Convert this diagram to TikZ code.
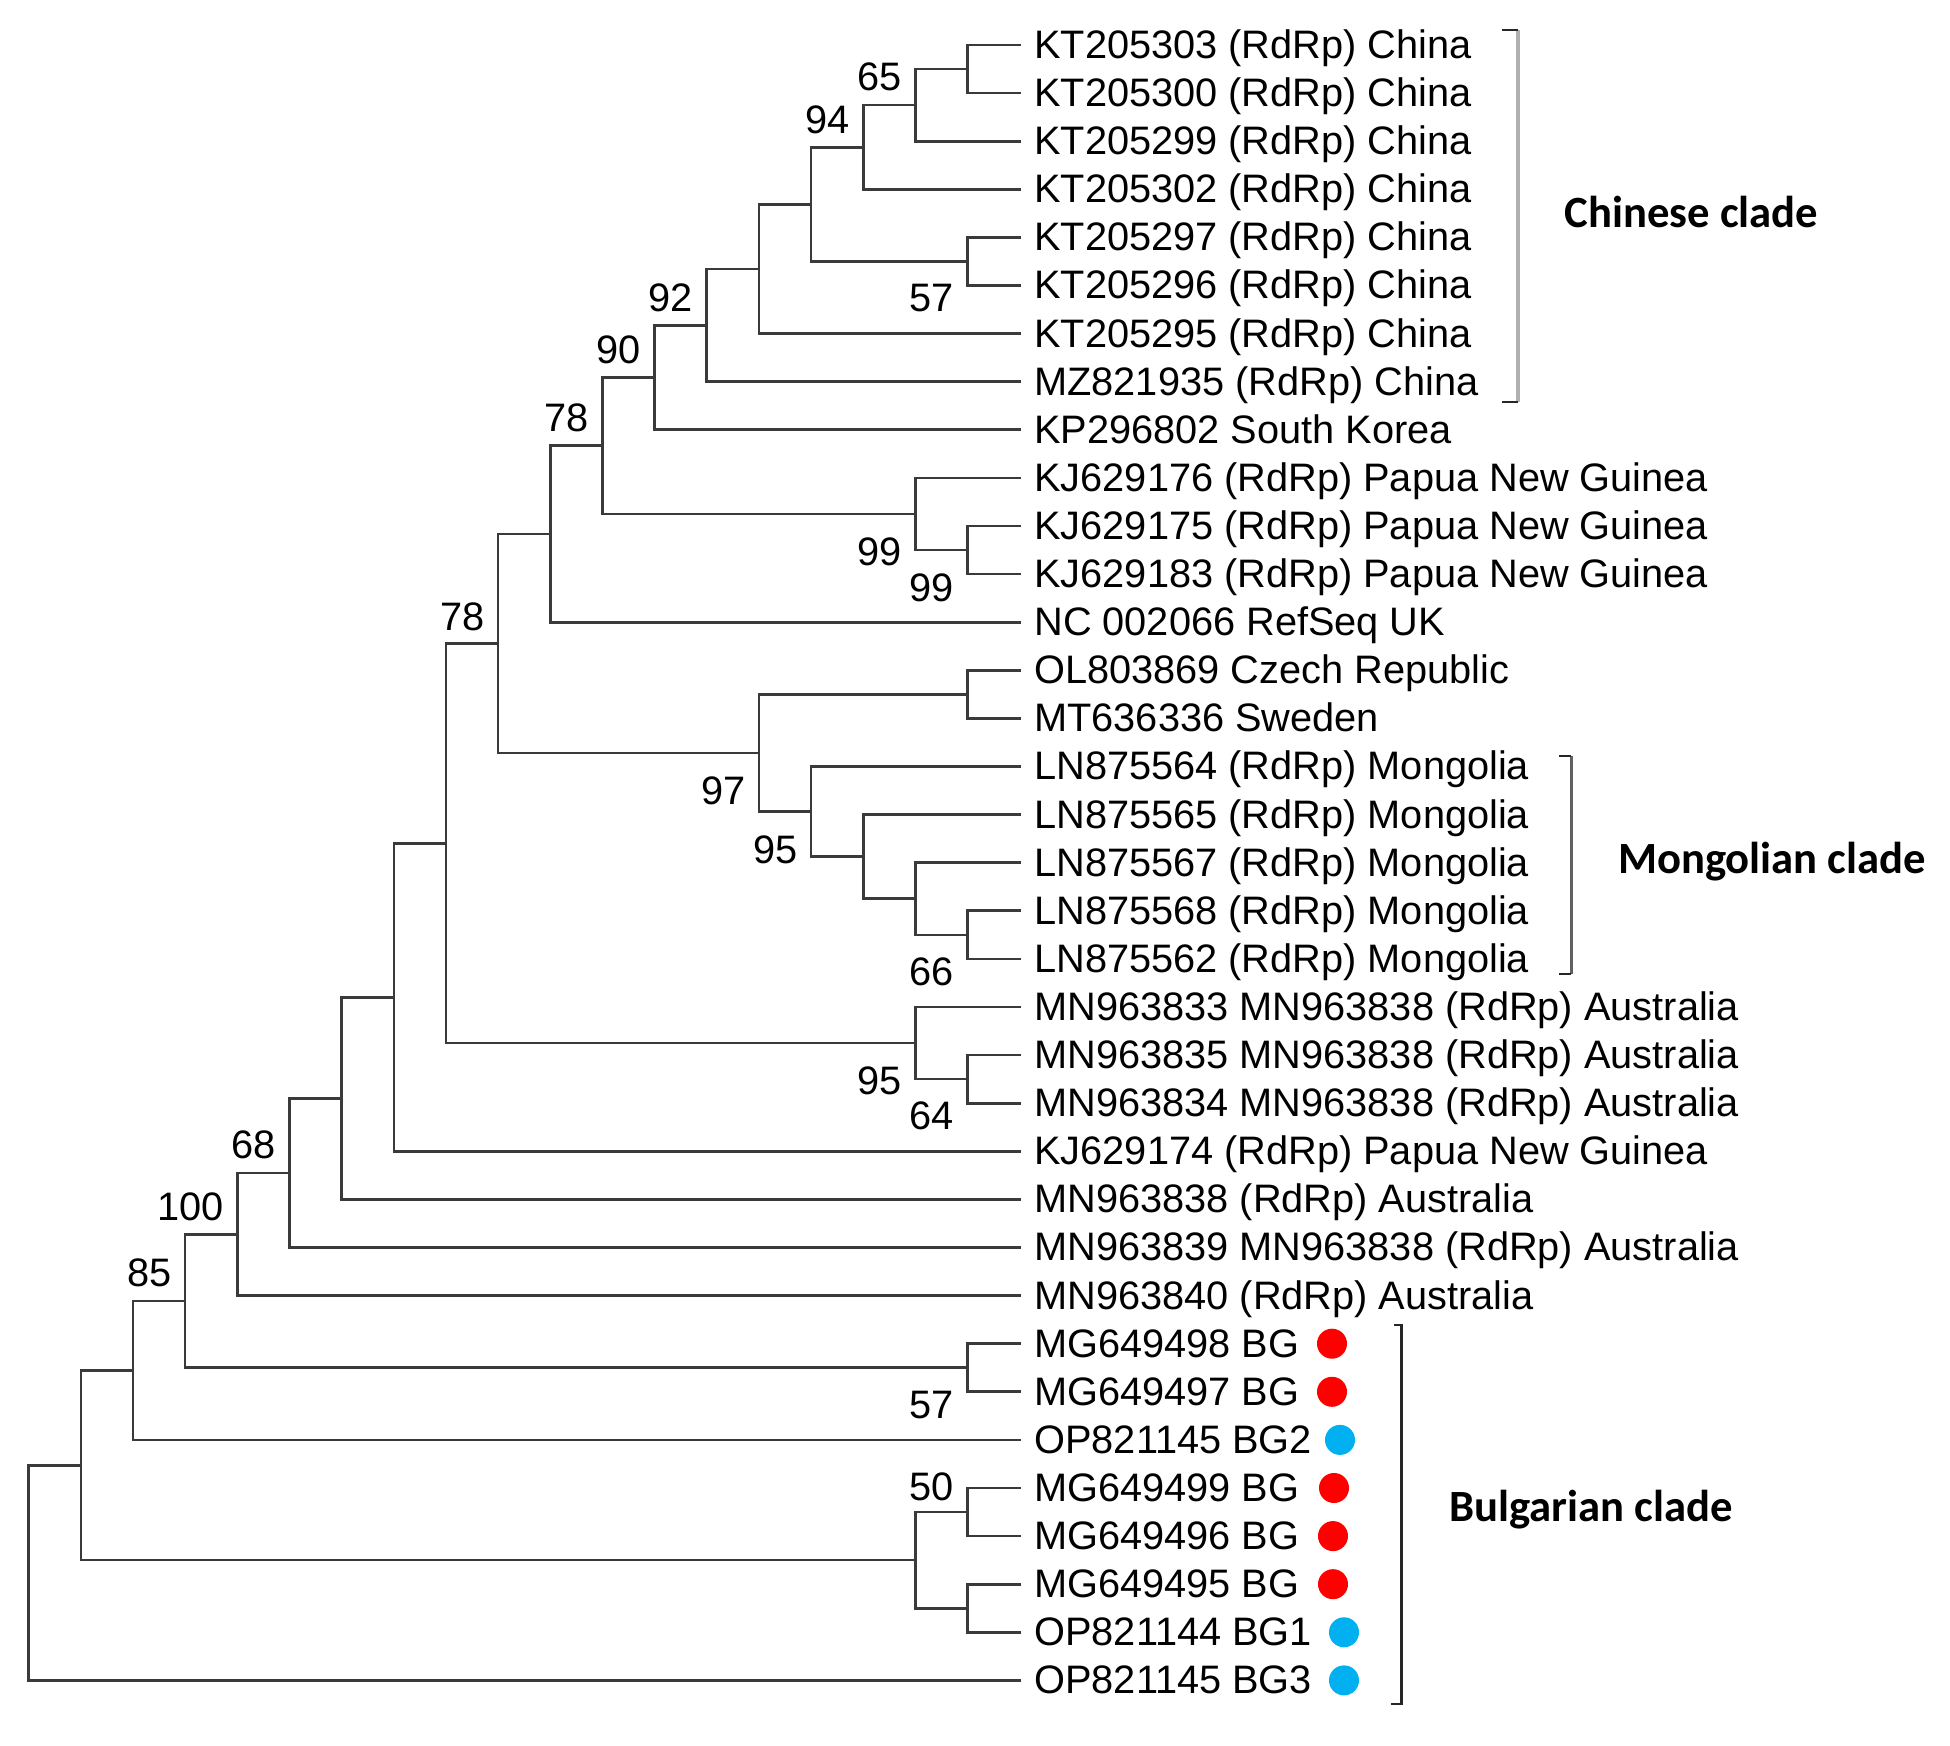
\documentclass[tikz,border=0pt]{standalone}
\usepackage{fontspec}
\setmainfont{Liberation Sans}
\newfontfamily\cladefont{Carlito}
\usetikzlibrary{calc}
\definecolor{branch}{HTML}{3A3A3A}
\definecolor{brgray}{HTML}{B0B0B0}
\definecolor{brdark}{HTML}{606060}
\definecolor{dotred}{HTML}{FF0000}
\definecolor{dotblue}{HTML}{00B0F0}
\newcommand\lx[1]{28.7+52.16*#1}
\tikzset{
  br/.style={draw=branch, line width=0.75pt, line cap=rect},
  leaf/.style={anchor=base west, inner sep=0pt, font=\fontsize{11.3pt}{13pt}\selectfont},
  bsa/.style={anchor=south east, inner sep=0pt, font=\fontsize{11.3pt}{13pt}\selectfont},
  bsb/.style={anchor=north east, inner sep=0pt, font=\fontsize{11.3pt}{13pt}\selectfont},
  clade/.style={inner sep=0pt, font=\cladefont\bfseries\fontsize{12.7pt}{15pt}\selectfont},
  dotr/.style={circle, fill=dotred, inner sep=0pt, minimum size=0.3cm},
  dotb/.style={circle, fill=dotblue, inner sep=0pt, minimum size=0.3cm},
  tick/.style={draw=black!85, line width=0.8pt},
}
\begin{document}
\begin{tikzpicture}[x=0.01cm, y=-0.01cm]
\useasboundingbox (0,0) rectangle (1950,1746);
% leaf end points
\foreach \i in {1,...,35} \coordinate (L\i) at (1019.7, {45+(\i-1)*48.1});
% internal nodes
\coordinate (A)    at ({\lx{18}}, 69.05);
\coordinate (N65)  at ({\lx{17}}, 105.1);
\coordinate (N94)  at ({\lx{16}}, 147.2);
\coordinate (B57)  at ({\lx{18}}, 261.45);
\coordinate (C)    at ({\lx{15}}, 204.3);
\coordinate (D)    at ({\lx{14}}, 268.95);
\coordinate (N92)  at ({\lx{13}}, 325.3);
\coordinate (N90)  at ({\lx{12}}, 377.6);
\coordinate (K99b) at ({\lx{18}}, 550.05);
\coordinate (K99a) at ({\lx{17}}, 514.0);
\coordinate (N78a) at ({\lx{11}}, 445.8);
\coordinate (E)    at ({\lx{10}}, 534.0);
\coordinate (CS)   at ({\lx{18}}, 694.35);
\coordinate (M66)  at ({\lx{18}}, 934.85);
\coordinate (Mg)   at ({\lx{17}}, 898.8);
\coordinate (Mf)   at ({\lx{16}}, 856.7);
\coordinate (M95)  at ({\lx{15}}, 811.6);
\coordinate (N97)  at ({\lx{14}}, 753.0);
\coordinate (N78b) at ({\lx{9}}, 643.5);
\coordinate (A64)  at ({\lx{18}}, 1079.15);
\coordinate (A95)  at ({\lx{17}}, 1043.1);
\coordinate (F)    at ({\lx{8}}, 843.3);
\coordinate (G)    at ({\lx{7}}, 997.3);
\coordinate (H)    at ({\lx{6}}, 1098.35);
\coordinate (N68)  at ({\lx{5}}, 1172.9);
\coordinate (N100) at ({\lx{4}}, 1234.25);
\coordinate (G57)  at ({\lx{18}}, 1367.75);
\coordinate (N85)  at ({\lx{3}}, 1301.0);
\coordinate (I)    at ({\lx{2}}, 1370.45);
\coordinate (B50)  at ({\lx{18}}, 1512.05);
\coordinate (J)    at ({\lx{18}}, 1608.25);
\coordinate (K)    at ({\lx{17}}, 1560.15);
\coordinate (Lr)   at ({\lx{1}}, 1465.3);
\coordinate (R)    at ({\lx{0}}, 1572.85);
% branches
\draw[br] (A) |- (L1) (A) |- (L2);
\draw[br] (N65) |- (A) (N65) |- (L3);
\draw[br] (N94) |- (N65) (N94) |- (L4);
\draw[br] (B57) |- (L5) (B57) |- (L6);
\draw[br] (C) |- (N94) (C) |- (B57);
\draw[br] (D) |- (C) (D) |- (L7);
\draw[br] (N92) |- (D) (N92) |- (L8);
\draw[br] (N90) |- (N92) (N90) |- (L9);
\draw[br] (K99b) |- (L11) (K99b) |- (L12);
\draw[br] (K99a) |- (L10) (K99a) |- (K99b);
\draw[br] (N78a) |- (N90) (N78a) |- (K99a);
\draw[br] (E) |- (N78a) (E) |- (L13);
\draw[br] (CS) |- (L14) (CS) |- (L15);
\draw[br] (M66) |- (L19) (M66) |- (L20);
\draw[br] (Mg) |- (L18) (Mg) |- (M66);
\draw[br] (Mf) |- (L17) (Mf) |- (Mg);
\draw[br] (M95) |- (L16) (M95) |- (Mf);
\draw[br] (N97) |- (CS) (N97) |- (M95);
\draw[br] (N78b) |- (E) (N78b) |- (N97);
\draw[br] (A64) |- (L22) (A64) |- (L23);
\draw[br] (A95) |- (L21) (A95) |- (A64);
\draw[br] (F) |- (N78b) (F) |- (A95);
\draw[br] (G) |- (F) (G) |- (L24);
\draw[br] (H) |- (G) (H) |- (L25);
\draw[br] (N68) |- (H) (N68) |- (L26);
\draw[br] (N100) |- (N68) (N100) |- (L27);
\draw[br] (G57) |- (L28) (G57) |- (L29);
\draw[br] (N85) |- (N100) (N85) |- (G57);
\draw[br] (I) |- (N85) (I) |- (L30);
\draw[br] (B50) |- (L31) (B50) |- (L32);
\draw[br] (J) |- (L33) (J) |- (L34);
\draw[br] (K) |- (B50) (K) |- (J);
\draw[br] (Lr) |- (I) (Lr) |- (K);
\draw[br] (R) |- (Lr) (R) |- (L35);
% bootstrap values
\node[bsa] (b65)  at ($(N65)+(-13,-13)$) {65};
\node[bsa] (b94)  at ($(N94)+(-13,-13)$) {94};
\node[bsb] (b57a) at ($(B57)+(-13,22)$) {57};
\node[bsa] (b92)  at ($(N92)+(-13,-13)$) {92};
\node[bsa] (b90)  at ($(N90)+(-13,-13)$) {90};
\node[bsa] (b78a) at ($(N78a)+(-13,-13)$) {78};
\node[bsb] (b99a) at ($(K99a)+(-13,23)$) {99};
\node[bsb] (b99b) at ($(K99b)+(-13,23)$) {99};
\node[bsa] (b78b) at ($(N78b)+(-13,-12)$) {78};
\node[bsb] (b97)  at ($(N97)+(-13,23)$) {97};
\node[bsb] (b95a) at ($(M95)+(-13,23)$) {95};
\node[bsb] (b66)  at ($(M66)+(-13,22)$) {66};
\node[bsb] (b95b) at ($(A95)+(-13,23)$) {95};
\node[bsb] (b64)  at ($(A64)+(-13,22)$) {64};
\node[bsa] (b68)  at ($(N68)+(-13,-13)$) {68};
\node[bsa] (b100) at ($(N100)+(-13,-13)$) {100};
\node[bsa] (b85)  at ($(N85)+(-13,-13)$) {85};
\node[bsb] (b57b) at ($(G57)+(-13,23)$) {57};
\node[bsa] (b50)  at ($(B50)+(-13,-10)$) {50};
% leaf labels
\node[leaf] (T1)  at ($(L1)+(14,13.5)$)  {KT205303 (RdRp) China};
\node[leaf] (T2)  at ($(L2)+(14,13.5)$)  {KT205300 (RdRp) China};
\node[leaf] (T3)  at ($(L3)+(14,13.5)$)  {KT205299 (RdRp) China};
\node[leaf] (T4)  at ($(L4)+(14,13.5)$)  {KT205302 (RdRp) China};
\node[leaf] (T5)  at ($(L5)+(14,13.5)$)  {KT205297 (RdRp) China};
\node[leaf] (T6)  at ($(L6)+(14,13.5)$)  {KT205296 (RdRp) China};
\node[leaf] (T7)  at ($(L7)+(14,13.5)$)  {KT205295 (RdRp) China};
\node[leaf] (T8)  at ($(L8)+(14,13.5)$)  {MZ821935 (RdRp) China};
\node[leaf] (T9)  at ($(L9)+(14,13.5)$)  {KP296802 South Korea};
\node[leaf] (T10) at ($(L10)+(14,13.5)$) {KJ629176 (RdRp) Papua New Guinea};
\node[leaf] (T11) at ($(L11)+(14,13.5)$) {KJ629175 (RdRp) Papua New Guinea};
\node[leaf] (T12) at ($(L12)+(14,13.5)$) {KJ629183 (RdRp) Papua New Guinea};
\node[leaf] (T13) at ($(L13)+(14,13.5)$) {NC 002066 RefSeq UK};
\node[leaf] (T14) at ($(L14)+(14,13.5)$) {OL803869 Czech Republic};
\node[leaf] (T15) at ($(L15)+(14,13.5)$) {MT636336 Sweden};
\node[leaf] (T16) at ($(L16)+(14,13.5)$) {LN875564 (RdRp) Mongolia};
\node[leaf] (T17) at ($(L17)+(14,13.5)$) {LN875565 (RdRp) Mongolia};
\node[leaf] (T18) at ($(L18)+(14,13.5)$) {LN875567 (RdRp) Mongolia};
\node[leaf] (T19) at ($(L19)+(14,13.5)$) {LN875568 (RdRp) Mongolia};
\node[leaf] (T20) at ($(L20)+(14,13.5)$) {LN875562 (RdRp) Mongolia};
\node[leaf] (T21) at ($(L21)+(14,13.5)$) {MN963833 MN963838 (RdRp) Australia};
\node[leaf] (T22) at ($(L22)+(14,13.5)$) {MN963835 MN963838 (RdRp) Australia};
\node[leaf] (T23) at ($(L23)+(14,13.5)$) {MN963834 MN963838 (RdRp) Australia};
\node[leaf] (T24) at ($(L24)+(14,13.5)$) {KJ629174 (RdRp) Papua New Guinea};
\node[leaf] (T25) at ($(L25)+(14,13.5)$) {MN963838 (RdRp) Australia};
\node[leaf] (T26) at ($(L26)+(14,13.5)$) {MN963839 MN963838 (RdRp) Australia};
\node[leaf] (T27) at ($(L27)+(14,13.5)$) {MN963840 (RdRp) Australia};
\node[leaf] (T28) at ($(L28)+(14,13.5)$) {MG649498 BG};
\node[leaf] (T29) at ($(L29)+(14,13.5)$) {MG649497 BG};
\node[leaf] (T30) at ($(L30)+(14,13.5)$) {OP821145 BG2};
\node[leaf] (T31) at ($(L31)+(14,13.5)$) {MG649499 BG};
\node[leaf] (T32) at ($(L32)+(14,13.5)$) {MG649496 BG};
\node[leaf] (T33) at ($(L33)+(14,13.5)$) {MG649495 BG};
\node[leaf] (T34) at ($(L34)+(14,13.5)$) {OP821144 BG1};
\node[leaf] (T35) at ($(L35)+(14,13.5)$) {OP821145 BG3};
% dots
\node[dotr] (d28) at (1332, 1343.7) {};
\node[dotr] (d29) at (1332, 1391.8) {};
\node[dotb] (d30) at (1340, 1439.9) {};
\node[dotr] (d31) at (1334, 1488) {};
\node[dotr] (d32) at (1333, 1536.1) {};
\node[dotr] (d33) at (1333, 1584.2) {};
\node[dotb] (d34) at (1344, 1632.3) {};
\node[dotb] (d35) at (1344, 1680.4) {};
% brackets
\coordinate (cbt) at (1502, 30);
\coordinate (cbu) at (1518, 30);
\coordinate (cbl) at (1518, 402);
\coordinate (cbb) at (1502, 402);
\draw[draw=brgray, line width=1.1pt] (cbu) -- (cbl);
\draw[tick] (cbt) -- (cbu) (cbb) -- (cbl);
\coordinate (mbt) at (1559, 756);
\coordinate (mbu) at (1571, 756);
\coordinate (mbl) at (1571, 974);
\coordinate (mbb) at (1559, 974);
\draw[draw=brdark, line width=0.85pt] (mbu) -- (mbl);
\draw[tick] (mbt) -- (mbu) (mbb) -- (mbl);
\coordinate (gbt) at (1394, 1325);
\coordinate (gbu) at (1401, 1325);
\coordinate (gbl) at (1401, 1704);
\coordinate (gbb) at (1391, 1704);
\draw[draw=black!85, line width=0.85pt] (gbt) -- (gbu) -- (gbl) -- (gbb);
% clade names
\node[clade] (cc) at (1691.5, 212) {Chinese clade};
\node[clade] (mc) at (1772, 862) {Mongolian clade};
\node[clade] (bc) at (1591, 1510) {Bulgarian clade};
\end{tikzpicture}
\end{document}
